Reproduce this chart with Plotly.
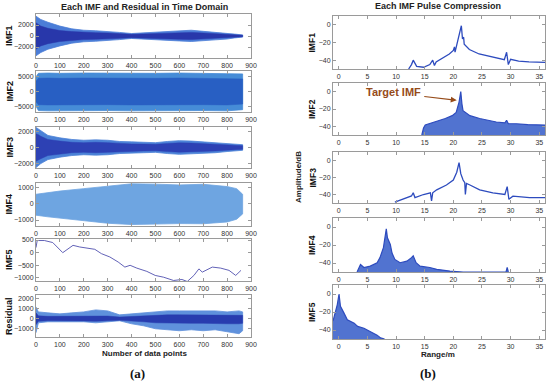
import plotly.graph_objects as go

W, H = 550, 383

# ---------------- data: time domain envelopes (sample index, upper, lower) ----------------
imf1_x = [0, 10, 20, 50, 100, 150, 200, 250, 300, 350, 400, 450, 500, 550, 600, 650, 700, 750, 800, 830, 865]
imf1_up = [3600, 3300, 3000, 2500, 1800, 1300, 1050, 950, 850, 650, 450, 550, 650, 800, 900, 1050, 850, 700, 550, 350, 200]
imf1_lo = [-3600, -3300, -3000, -2400, -1800, -1300, -1050, -950, -850, -650, -450, -550, -650, -800, -900, -1000, -850, -700, -550, -350, -200]
imf1_core = [2400, 2100, 1800, 1400, 1000, 800, 650, 600, 550, 420, 300, 380, 450, 550, 600, 650, 550, 450, 350, 220, 120]

imf2_x = [0, 10, 50, 100, 200, 300, 400, 500, 600, 700, 800, 865]
imf2_up = [5000, 6200, 6300, 6200, 6300, 6200, 6300, 6200, 6300, 6200, 6300, 6000]
imf2_lo = [-5000, -6500, -6600, -6500, -6600, -6500, -6600, -6500, -6600, -6500, -6600, -6200]
imf2_core = [3500, 4500, 4600, 4500, 4600, 4500, 4600, 4500, 4600, 4500, 4600, 4300]

imf3_x = [0, 10, 20, 50, 100, 150, 200, 250, 300, 350, 400, 450, 500, 550, 600, 650, 700, 750, 800, 830, 865]
imf3_up = [2500, 2300, 2000, 1500, 1200, 1000, 900, 950, 900, 750, 700, 650, 600, 750, 850, 800, 700, 650, 500, 400, 350]
imf3_lo = [-2500, -2300, -2000, -1500, -1200, -1000, -900, -950, -900, -750, -700, -650, -600, -750, -850, -800, -700, -650, -500, -400, -350]
imf3_core = [1700, 1600, 1400, 1000, 800, 650, 600, 650, 600, 500, 450, 420, 400, 500, 580, 550, 470, 430, 330, 260, 230]

imf4_x = [0, 50, 100, 200, 300, 400, 500, 600, 700, 800, 840, 865]
imf4_up = [600, 700, 800, 950, 1100, 1250, 1230, 1180, 1220, 1080, 950, 600]
imf4_lo = [-700, -800, -900, -1050, -1200, -1280, -1260, -1220, -1230, -1120, -950, -620]

imf5_x = [0, 5, 35, 70, 112, 155, 183, 218, 246, 274, 309, 344, 372, 394, 422, 464, 499, 534, 576, 611, 633, 661, 682, 696, 738, 773, 808, 836, 858]
imf5_y = [200, 480, 480, 400, 0, 290, 225, 186, 133, -40, -170, -370, -570, -500, -610, -740, -900, -970, -1100, -1060, -1140, -900, -640, -770, -570, -610, -700, -900, -700]

res_x = [0, 10, 50, 100, 150, 200, 250, 300, 350, 400, 450, 500, 550, 600, 650, 700, 750, 800, 850, 865]
res_up = [1200, 700, 600, 500, 600, 700, 900, 800, 400, 500, 600, 700, 800, 800, 800, 800, 800, 700, 800, 700]
res_lo = [-1400, -400, -300, -300, -300, -300, -400, -300, -200, -500, -700, -1000, -1100, -1200, -1100, -1200, -1100, -1300, -1500, -1200]
res_core_up = [600, 300, 250, 250, 250, 280, 300, 280, 180, 250, 300, 350, 400, 400, 400, 400, 400, 400, 400, 350]
res_core_lo = [-600, -250, -200, -200, -200, -220, -250, -200, -150, -250, -300, -400, -450, -450, -450, -450, -450, -500, -500, -450]

# ---------------- data: pulse compression spectra (range m, dB) ----------------
s1_x = [12.2, 12.7, 13.0, 13.3, 13.6, 14.8, 15.9, 16.4, 16.7, 17.0, 18.2, 19.3, 20.0, 20.2, 20.3, 20.7, 21.1, 21.4, 21.6, 21.8, 21.9, 22.8, 24.5, 26.3, 28.0, 28.9, 29.3, 29.6, 30.0, 31.4, 33.2, 35.8, 36.0]
s1_y = [-50, -45, -40, -44, -47, -48, -45, -40, -46, -42, -37, -33, -29, -25, -31, -20, -11, -1, -16, -14, -22, -28, -33, -36, -38, -39.5, -31, -45, -39, -41, -42, -42.5, -42.5]

s2_x = [14.5, 14.8, 15.1, 16.9, 18.6, 19.8, 20.5, 21.0, 21.3, 21.5, 21.7, 22.9, 24.6, 27.5, 29.0, 29.3, 29.6, 31.0, 33.0, 36.0]
s2_y = [-50, -42, -38.5, -35, -31, -27.7, -24, -12, 0, -14, -22, -27.7, -31, -35, -36, -33, -37, -37, -38, -38.5]

s3_x = [9.8, 11.9, 12.7, 13.0, 13.3, 14.8, 16.0, 16.2, 16.4, 17.1, 18.8, 20.0, 20.6, 21.0, 21.3, 21.7, 22.0, 22.1, 22.3, 22.9, 24.6, 26.9, 29.0, 29.4, 29.7, 30.4, 33.3, 36.0]
s3_y = [-49, -43.6, -41.7, -38, -43.6, -40, -38, -47.6, -38, -34.5, -28.8, -23, -13.8, -2.5, -15.5, -23, -26, -40, -27, -28.8, -34.5, -38, -40, -30.7, -45.7, -42, -43.7, -43.7]

s4_x = [3.2, 3.8, 4.4, 5.5, 6.7, 7.2, 7.8, 8.1, 8.3, 8.5, 9.0, 9.3, 9.8, 10.7, 11.9, 12.7, 13.0, 13.5, 14.2, 15.9, 17.1, 19.4, 21.7, 29.2, 29.4, 29.6]
s4_y = [-50, -41.6, -45, -43.5, -39.7, -34, -23, -10, -2, -12, -19.5, -29, -36, -39.7, -38, -34, -32, -39.7, -43.5, -45, -47, -49, -50, -50, -45, -50]

s5_x = [-1.0, -0.8, -0.55, -0.25, 0.05, 0.3, 0.9, 1.5, 2.7, 3.3, 4.4, 5.6, 6.7, 7.3, 8.0]
s5_y = [-30, -25, -19.4, -11.8, 0, -13.7, -21, -28.6, -32.4, -36, -38, -42, -45.7, -48.8, -50]

left_ticks_x = [0, 100, 200, 300, 400, 500, 600, 700, 800, 900]
right_ticks_x = [0, 5, 10, 15, 20, 25, 30, 35]
db_ticks = [-40, -20, 0]

left_names = ["IMF1", "IMF2", "IMF3", "IMF4", "IMF5", "Residual"]
right_names = ["IMF1", "IMF2", "IMF3", "IMF4", "IMF5"]

# ---------------- layout geometry (pixels) ----------------
L_X = (36, 251)
R_X = (333, 545)
L_ROWS = [(14, 58), (71, 112), (127, 168), (183, 226), (239, 281), (295, 337)]
R_ROWS = [(16, 69), (83, 135), (152, 203), (218, 272), (285, 339)]
L_YR = [(-4000, 4000), (-7000, 7000), (-2550, 2550), (-1370, 1300), (-1120, 540), (-1830, 2400)]
L_YT = [[-2000, 0, 2000], [-5000, 0, 5000], [-2000, 0, 2000], [-1000, 0, 1000],
        [-1000, -500, 0, 500], [-1000, 0, 1000, 2000]]


def xd(a, b):
    return [a / W, b / W]


def yd(t, b):
    return [1 - b / H, 1 - t / H]


FONT = "Liberation Sans, Arial, sans-serif"
tickfont = dict(family=FONT, size=7, color="#333")

fig = go.Figure()
layout = dict(width=W, height=H, margin=dict(l=0, r=0, t=0, b=0, autoexpand=False),
              paper_bgcolor="white", plot_bgcolor="white", showlegend=False, template="none")

axstyle = dict(showline=True, mirror="ticks", linecolor="#9a9a9a", linewidth=1,
               ticks="inside", ticklen=3, tickcolor="#9a9a9a", showgrid=False, automargin=False,
               zeroline=False, tickfont=tickfont, fixedrange=True)


def band(xs, up, lo, col, xa, ya, lw=0.8):
    fig.add_trace(go.Scatter(x=xs + xs[::-1], y=up + lo[::-1], xaxis=xa, yaxis=ya,
                             fill="toself", fillcolor=col, mode="lines",
                             line=dict(color=col, width=lw), hoverinfo="skip"))


# (x, upper, lower, outer colour, core, core colour)
envs = [(imf1_x, imf1_up, imf1_lo, "rgb(75,125,215)", imf1_core, "rgb(40,55,170)"),
        (imf2_x, imf2_up, imf2_lo, "rgb(70,140,215)", imf2_core, "rgb(40,95,195)"),
        (imf3_x, imf3_up, imf3_lo, "rgb(75,130,215)", imf3_core, "rgb(45,65,180)"),
        (imf4_x, imf4_up, imf4_lo, "rgb(110,165,225)", None, None)]

for i in range(6):
    n = i + 1
    xa = "x" if n == 1 else f"x{n}"
    ya = "y" if n == 1 else f"y{n}"
    layout["xaxis" if n == 1 else f"xaxis{n}"] = dict(
        domain=xd(*L_X), range=[0, 900], tickvals=left_ticks_x, anchor=ya, ticklabelstandoff=1, **axstyle)
    layout["yaxis" if n == 1 else f"yaxis{n}"] = dict(
        domain=yd(*L_ROWS[i]), range=list(L_YR[i]), tickvals=L_YT[i], anchor=xa, **axstyle)
    if i < 4:
        xs, up, lo, col, core, ccol = envs[i]
        band(xs, up, lo, col, xa, ya)
        if core is not None:
            band(xs, core, [-c for c in core], ccol, xa, ya, 0.5)
    elif i == 4:
        fig.add_trace(go.Scatter(x=imf5_x, y=imf5_y, xaxis=xa, yaxis=ya, mode="lines",
                                 line=dict(color="rgb(80,80,175)", width=0.9)))
    else:
        band(res_x, res_up, res_lo, "rgb(95,145,220)", xa, ya)
        band(res_x, res_core_up, res_core_lo, "rgb(40,60,175)", xa, ya, 0.5)

specs = [(s1_x, s1_y, False), (s2_x, s2_y, True), (s3_x, s3_y, False), (s4_x, s4_y, True), (s5_x, s5_y, True)]
for j in range(5):
    n = 7 + j
    xa, ya = f"x{n}", f"y{n}"
    layout[f"xaxis{n}"] = dict(domain=xd(*R_X), range=[-1, 36], tickvals=right_ticks_x, anchor=ya,
                               ticklabelstandoff=1, **axstyle)
    layout[f"yaxis{n}"] = dict(domain=yd(*R_ROWS[j]), range=[-50, 10], tickvals=db_ticks, anchor=xa, **axstyle)
    sx, sy, filled = specs[j]
    if filled:
        fig.add_trace(go.Scatter(x=[sx[0], sx[-1]], y=[-50, -50], xaxis=xa, yaxis=ya, mode="lines",
                                 line=dict(color="rgba(0,0,0,0)", width=0), hoverinfo="skip"))
        fig.add_trace(go.Scatter(x=sx, y=sy, xaxis=xa, yaxis=ya, mode="lines", fill="tonexty",
                                 fillcolor="rgba(50,90,200,0.85)",
                                 line=dict(color="rgb(45,75,190)", width=1.2)))
    else:
        fig.add_trace(go.Scatter(x=sx, y=sy, xaxis=xa, yaxis=ya, mode="lines",
                                 line=dict(color="rgb(45,75,190)", width=1.3)))


def txt(text, px, py, size, color="#222", family=FONT, angle=0):
    return dict(text=text, x=px / W, y=1 - py / H, xref="paper", yref="paper", xanchor="center",
                yanchor="middle", showarrow=False, textangle=angle,
                font=dict(family=family, size=size, color=color))


ann = []
for i, nm in enumerate(left_names):
    t, b = L_ROWS[i]
    ann.append(txt(f"<b>{nm}</b>", 9, (t + b) / 2, 9, "#111", angle=-90))
for j, nm in enumerate(right_names):
    t, b = R_ROWS[j]
    ann.append(txt(f"<b>{nm}</b>", 312, (t + b) / 2, 8.5, "#111", angle=-90))

SERIF = "Liberation Serif, Times New Roman, serif"
ann += [
    txt("<b>Each IMF and Residual in Time Domain</b>", 144, 7, 9),
    txt("<b>Each IMF Pulse Compression</b>", 438, 6, 9),
    txt("<b>Number of data points</b>", 144, 353, 8),
    txt("<b>Range/m</b>", 438, 354, 8),
    txt("<b>Amplitude/dB</b>", 298, 177, 8, angle=-90),
    txt("<b>(a)</b>", 137, 373, 13, "#111", SERIF),
    txt("<b>(b)</b>", 428, 373, 13, "#111", SERIF),
    txt("<b>Target IMF</b>", 393, 92, 11, "rgb(150,75,25)"),
    dict(text="", x=20.6, y=-10, xref="x8", yref="y8", ax=-34, ay=-4, showarrow=True,
         arrowhead=2, arrowsize=1, arrowwidth=1.2, arrowcolor="rgb(150,75,25)"),
]
layout["annotations"] = ann
fig.update_layout(**layout)
fig.write_html("out.html", config={"displayModeBar": False},
               post_script="document.body.style.margin='0';document.body.style.overflow='hidden';")
